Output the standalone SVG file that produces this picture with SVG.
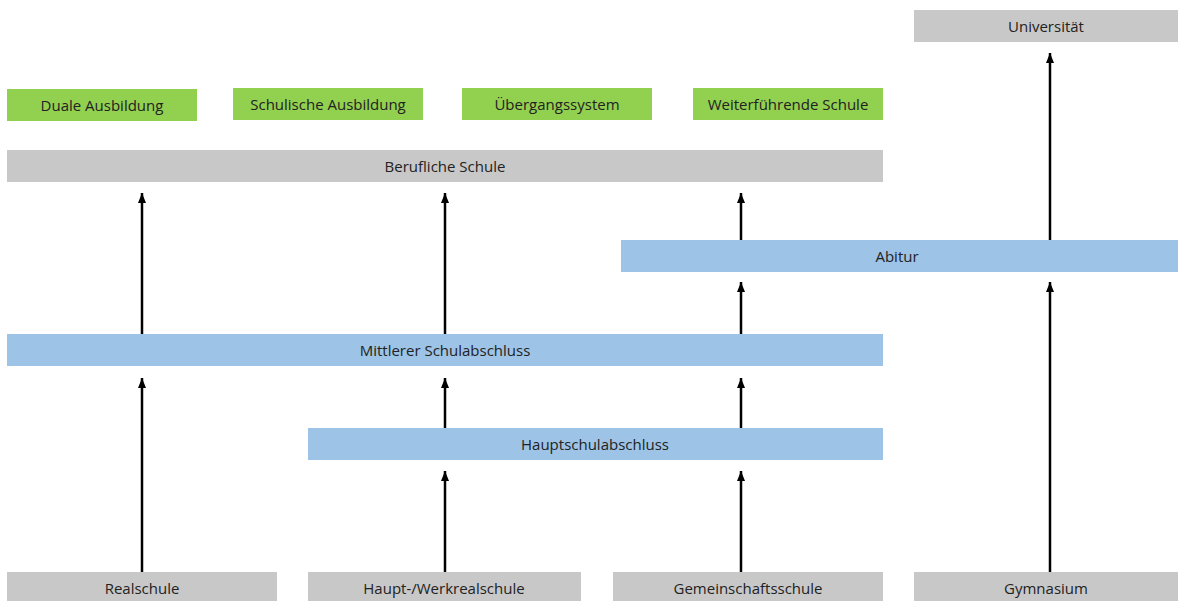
<svg xmlns="http://www.w3.org/2000/svg" width="1178" height="601" viewBox="0 0 1178 601">
<style>
.g{fill:#c8c8c8}
.gr{fill:#92d050}
.b{fill:#9dc3e6}
text{font-family:"Open Sans","Noto Sans","Liberation Sans",sans-serif;font-size:15px;fill:#222;text-anchor:middle;dominant-baseline:central}
.c line{stroke:#000;stroke-width:2.5;marker-end:url(#ah)}
</style>
<defs>
<marker id="ah" markerUnits="userSpaceOnUse" markerWidth="10" markerHeight="8" refX="10" refY="4" orient="auto" viewBox="0 0 10 8">
<path d="M0,0 L10,4 L0,8 Z" fill="#000"/>
</marker>
</defs>
<rect width="1178" height="601" fill="#fff"/>
<g class="c" id="connectors">
<line x1="1050" y1="240" x2="1050" y2="53"/>
<line x1="142" y1="334" x2="142" y2="193"/>
<line x1="445" y1="334" x2="445" y2="193"/>
<line x1="741" y1="240" x2="741" y2="193"/>
<line x1="741" y1="334" x2="741" y2="282"/>
<line x1="1050" y1="572" x2="1050" y2="282"/>
<line x1="142" y1="572" x2="142" y2="378"/>
<line x1="445" y1="428" x2="445" y2="378"/>
<line x1="741" y1="428" x2="741" y2="378"/>
<line x1="445" y1="572" x2="445" y2="471"/>
<line x1="741" y1="572" x2="741" y2="471"/>
</g>
<g id="universitaet"><rect class="g" x="914" y="10" width="264" height="32"/><text x="1046" y="26">Universität</text></g>
<g id="duale"><rect class="gr" x="7" y="89" width="190" height="32"/><text x="102" y="105">Duale Ausbildung</text></g>
<g id="schulische"><rect class="gr" x="233" y="88" width="190" height="32"/><text x="328" y="104">Schulische Ausbildung</text></g>
<g id="uebergang"><rect class="gr" x="462" y="88" width="190" height="32"/><text x="557" y="104">Übergangssystem</text></g>
<g id="weiterfuehrend"><rect class="gr" x="693" y="88" width="190" height="32"/><text x="788" y="104">Weiterführende Schule</text></g>
<g id="berufliche"><rect class="g" x="7" y="150" width="876" height="32"/><text x="445" y="166">Berufliche Schule</text></g>
<g id="abitur"><rect class="b" x="621" y="240" width="557" height="32"/><text x="897" y="256">Abitur</text></g>
<g id="mittlerer"><rect class="b" x="7" y="334" width="876" height="32"/><text x="445" y="350">Mittlerer Schulabschluss</text></g>
<g id="hauptschulabschluss"><rect class="b" x="308" y="428" width="575" height="32"/><text x="595" y="444">Hauptschulabschluss</text></g>
<g id="realschule"><rect class="g" x="7" y="572" width="270" height="32"/><text x="142" y="588">Realschule</text></g>
<g id="hauptwerk"><rect class="g" x="308" y="572" width="273" height="32"/><text x="444" y="588">Haupt-/Werkrealschule</text></g>
<g id="gemeinschaft"><rect class="g" x="613" y="572" width="270" height="32"/><text x="748" y="588">Gemeinschaftsschule</text></g>
<g id="gymnasium"><rect class="g" x="914" y="572" width="264" height="32"/><text x="1046" y="588">Gymnasium</text></g>
</svg>
